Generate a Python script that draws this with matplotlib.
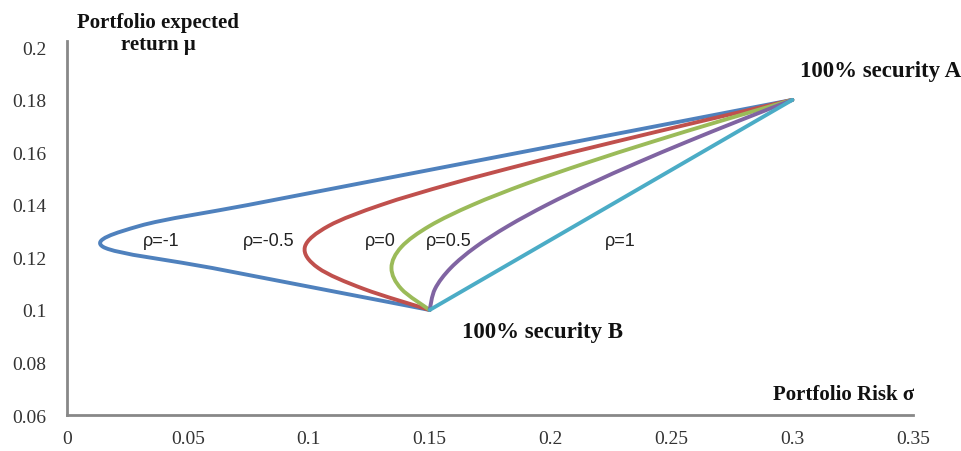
import numpy as np
import matplotlib
matplotlib.use("Agg")
import matplotlib.pyplot as plt
from matplotlib.path import Path
from matplotlib.patches import PathPatch

# portfolio points, weight of A going from 0 to 1 in steps of 0.1
mu = [0.100, 0.108, 0.116, 0.124, 0.132, 0.140, 0.148, 0.156, 0.164, 0.172, 0.180]
sig_m1 = [0.150, 0.105, 0.060, 0.015, 0.030, 0.075, 0.120, 0.165, 0.210, 0.255, 0.300]
sig_m05 = [0.150, 0.1228, 0.1039, 0.0984, 0.1082, 0.1299, 0.1587, 0.1915, 0.2265, 0.2628, 0.300]
sig_0 = [0.150, 0.1383, 0.1342, 0.1383, 0.150, 0.1677, 0.1897, 0.2148, 0.2419, 0.2704, 0.300]
sig_05 = [0.150, 0.1522, 0.1587, 0.1690, 0.1825, 0.1984, 0.2163, 0.2357, 0.2563, 0.2778, 0.300]
sig_1 = [0.150, 0.165, 0.180, 0.195, 0.210, 0.225, 0.240, 0.255, 0.270, 0.285, 0.300]

series = [sig_m1, sig_m05, sig_0, sig_05, sig_1]
colors = ['#4F81BD', '#C0504D', '#9BBB59', '#8064A2', '#4BACC6']

rho_labels = ['ρ=-1', 'ρ=-0.5', 'ρ=0', 'ρ=0.5', 'ρ=1']
rho_pos = [(0.039, 0.1265), (0.0834, 0.1265), (0.1295, 0.1265), (0.1578, 0.1265), (0.2288, 0.1265)]

xticks = [0, 0.05, 0.1, 0.15, 0.2, 0.25, 0.3, 0.35]
yticks = [0.06, 0.08, 0.1, 0.12, 0.14, 0.16, 0.18, 0.2]
xtick_labels = ['0', '0.05', '0.1', '0.15', '0.2', '0.25', '0.3', '0.35']
ytick_labels = ['0.06', '0.08', '0.1', '0.12', '0.14', '0.16', '0.18', '0.2']


def smooth_path(xs, ys):
    # excel-style smoothed line: catmull-rom turned into cubic beziers
    p = np.column_stack([xs, ys])
    n = len(p)
    verts = [p[0]]
    codes = [Path.MOVETO]
    for i in range(n - 1):
        p0 = p[max(i - 1, 0)]
        p1 = p[i]
        p2 = p[i + 1]
        p3 = p[min(i + 2, n - 1)]
        c1 = p1 + (p2 - p0) / 6
        c2 = p2 - (p3 - p1) / 6
        verts += [c1, c2, p2]
        codes += [Path.CURVE4] * 3
    return Path(verts, codes)


fig = plt.figure(figsize=(9.61, 4.52), dpi=100)
ax = fig.add_axes([0.0697, 0.0796, 0.8806, 0.8134])

for s, c in zip(series, colors):
    ax.add_patch(PathPatch(smooth_path(s, mu), facecolor='none', edgecolor=c,
                           lw=2.8, capstyle='round', joinstyle='round'))

ax.set_xlim(0, 0.35)
ax.set_ylim(0.06, 0.2)
ax.set_xticks(xticks)
ax.set_yticks(yticks)
ax.set_xticklabels(xtick_labels)
ax.set_yticklabels(ytick_labels)
ax.tick_params(length=0, labelsize=14, labelcolor='#333333')
ax.tick_params(axis='x', pad=11)
ax.tick_params(axis='y', pad=15)
for lab in ax.get_xticklabels() + ax.get_yticklabels():
    lab.set_fontfamily('Liberation Serif')

for side in ['top', 'right']:
    ax.spines[side].set_visible(False)
for side in ['left', 'bottom']:
    ax.spines[side].set_color('#888888')
    ax.spines[side].set_linewidth(2)
ax.spines['left'].set_bounds(0.06, 0.2025)

for t, (x, y) in zip(rho_labels, rho_pos):
    ax.text(x, y, t, fontsize=13, family='Liberation Sans', color='#222222',
            ha='center', va='center')

bold = dict(family='Liberation Serif', fontweight='bold', color='#111111')
fig.text(158 / 961, 1 - 34 / 452, 'Portfolio expected\nreturn μ', ha='center', va='center',
         linespacing=1.1, fontsize=15, **bold)
fig.text(800 / 961, 1 - 72 / 452, '100% security A', ha='left', va='center', fontsize=16.5, **bold)
fig.text(462 / 961, 1 - 333 / 452, '100% security B', ha='left', va='center', fontsize=16.5, **bold)
fig.text(773 / 961, 1 - 395 / 452, 'Portfolio Risk σ', ha='left', va='center', fontsize=15, **bold)

fig.savefig('out.png', dpi=100)
